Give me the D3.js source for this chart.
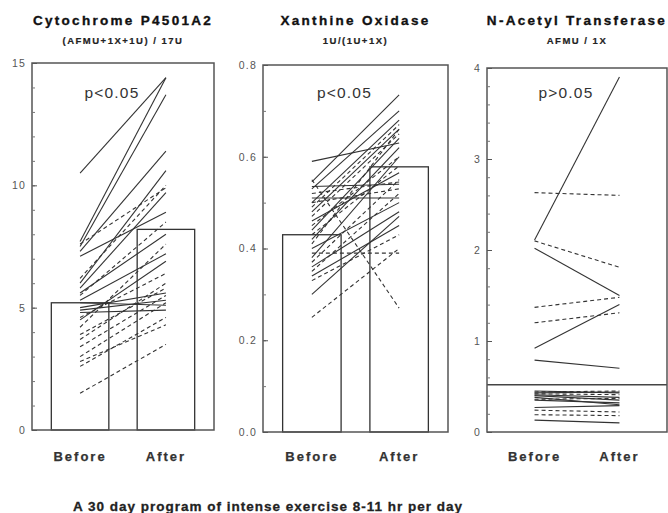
<!DOCTYPE html>
<html>
<head>
<meta charset="utf-8">
<script src="https://cdn.jsdelivr.net/npm/d3@7"></script>
<style>
  body { margin: 0; background: #fff; }
  svg { display: block; font-family: "Liberation Sans", Arial, sans-serif; }
</style>
</head>
<body>
<div id="chart"></div>
<script>
const w = 668;
const h = 513;

const categories = ['Before', 'After'];
const titles = ['Cytochrome P4501A2', 'Xanthine Oxidase', 'N-Acetyl Transferase'];
const subtitles = ['(AFMU+1X+1U) / 17U', '1U/(1U+1X)', 'AFMU / 1X'];
const pLabels = ['p<0.05', 'p<0.05', 'p>0.05'];
const footer = 'A 30 day program of intense exercise 8-11 hr per day';

// Cytochrome P4501A2: [before, after] per subject
const cypMeans = [5.2, 8.2];
const cypTicks = [0, 5, 10, 15];
const cypSolid = [
  [10.5, 14.4], [7.7, 14.4], [7.5, 13.7], [7.3, 11.4], [7.1, 8.9],
  [6.0, 10.6], [5.8, 9.7], [5.6, 8.0], [5.3, 7.2], [5.2, 5.1],
  [5.0, 5.6], [4.9, 5.3], [4.8, 4.9], [4.5, 6.9]
];
const cypDashed = [
  [7.6, 9.9], [6.2, 10.0], [5.5, 8.5], [4.6, 6.4], [4.2, 7.6],
  [3.9, 5.8], [3.7, 6.0], [3.4, 5.5], [3.0, 5.2], [2.8, 4.3],
  [2.6, 4.6], [1.5, 3.5]
];

// Xanthine Oxidase
const xoMeans = [0.43, 0.578];
const xoTicks = [0, 0.2, 0.4, 0.6, 0.8];
const xoSolid = [
  [0.59, 0.63], [0.545, 0.735], [0.53, 0.70], [0.535, 0.54], [0.51, 0.51],
  [0.50, 0.68], [0.48, 0.66], [0.46, 0.565], [0.44, 0.64], [0.42, 0.62],
  [0.40, 0.50], [0.38, 0.60], [0.36, 0.48], [0.30, 0.47], [0.34, 0.45]
];
const xoDashed = [
  [0.52, 0.545], [0.50, 0.53], [0.49, 0.67], [0.47, 0.65], [0.45, 0.60],
  [0.43, 0.58], [0.41, 0.66], [0.39, 0.39], [0.37, 0.55], [0.35, 0.52],
  [0.33, 0.43], [0.55, 0.27], [0.25, 0.40]
];

// N-Acetyl Transferase
const natMeans = [0.52, 0.52];
const natTicks = [0, 1, 2, 3, 4];
const natSolid = [
  [2.11, 3.9], [2.02, 1.5], [0.92, 1.4], [0.79, 0.70],
  [0.45, 0.43], [0.43, 0.44], [0.41, 0.38], [0.40, 0.35],
  [0.38, 0.30], [0.35, 0.32], [0.27, 0.29], [0.13, 0.10]
];
const natDashed = [
  [2.63, 2.6], [2.1, 1.81], [1.37, 1.48], [1.2, 1.31],
  [0.44, 0.45], [0.42, 0.41], [0.36, 0.37], [0.24, 0.22], [0.19, 0.18]
];

const panels = [
  { left: 32, right: 214, top: 63, bottom: 430, max: 15, minor: 1, ticks: cypTicks, fmt: d3.format('d'),
    means: cypMeans, solid: cypSolid, dashed: cypDashed, bars: true },
  { left: 263, right: 448, top: 65, bottom: 432, max: 0.8, minor: 0.1, ticks: xoTicks, fmt: d3.format('.1f'),
    means: xoMeans, solid: xoSolid, dashed: xoDashed, bars: true },
  { left: 487, right: 667, top: 68, bottom: 432, max: 4, minor: 0.2, ticks: natTicks, fmt: d3.format('d'),
    means: natMeans, solid: natSolid, dashed: natDashed, bars: false }
];

const svg = d3.select('#chart')
  .append('svg')
  .attr('width', w)
  .attr('height', h);

panels.forEach((p, i) => {
  const x = d3.scaleBand()
    .domain(categories)
    .range([p.left, p.right])
    .paddingInner(0.33)
    .paddingOuter(0.225);
  const y = d3.scaleLinear()
    .domain([0, p.max])
    .range([p.bottom, p.top]);
  const cx = c => x(c) + x.bandwidth() / 2;
  const g = svg.append('g');

  const mid = (p.left + p.right) / 2;
  g.append('text')
    .attr('x', mid).attr('y', 25)
    .attr('text-anchor', 'middle')
    .style('font-size', '13.5px').style('font-weight', 'bold')
    .style('letter-spacing', '2.3px')
    .attr('fill', '#111')
    .attr('stroke', '#111').attr('stroke-width', 0.35)
    .text(titles[i]);
  g.append('text')
    .attr('x', mid).attr('y', 44)
    .attr('text-anchor', 'middle')
    .style('font-size', '9.5px').style('font-weight', 'bold')
    .style('letter-spacing', '1.5px')
    .attr('fill', '#222')
    .attr('stroke', '#222').attr('stroke-width', 0.2)
    .text(subtitles[i]);

  // mean bars
  if (p.bars) {
    g.selectAll('rect.bar')
      .data(p.means)
      .enter()
      .append('rect')
      .attr('class', 'bar')
      .attr('x', (d, j) => x(categories[j]))
      .attr('y', d => y(d))
      .attr('width', x.bandwidth())
      .attr('height', d => y(0) - y(d))
      .attr('fill', 'none')
      .attr('stroke', '#333')
      .attr('stroke-width', 1.3);
  } else {
    g.append('line')
      .attr('x1', p.left).attr('x2', p.right)
      .attr('y1', y(p.means[0])).attr('y2', y(p.means[1]))
      .attr('stroke', '#444')
      .attr('stroke-width', 1.4);
  }

  // subject lines
  const drawPairs = (data, dash) => {
    g.selectAll(null)
      .data(data)
      .enter()
      .append('line')
      .attr('x1', cx('Before'))
      .attr('x2', cx('After'))
      .attr('y1', d => y(d[0]))
      .attr('y2', d => y(d[1]))
      .attr('stroke', '#333')
      .attr('stroke-width', 1.1)
      .attr('stroke-dasharray', dash);
  };
  drawPairs(p.solid, null);
  drawPairs(p.dashed, '4,3');

  // frame
  g.append('rect')
    .attr('x', p.left).attr('y', p.top)
    .attr('width', p.right - p.left)
    .attr('height', p.bottom - p.top)
    .attr('fill', 'none')
    .attr('stroke', '#555')
    .attr('stroke-width', 1.5);

  // y axis, ticks inside the frame
  const minorTicks = d3.range(0, p.max + p.minor / 2, p.minor);
  g.append('g')
    .attr('transform', 'translate(' + p.left + ',0)')
    .call(d3.axisRight(y).tickValues(minorTicks).tickSize(3).tickFormat(''))
    .call(a => a.select('.domain').remove())
    .call(a => a.selectAll('line').attr('stroke', '#777'));
  const yAxis = g.append('g')
    .attr('transform', 'translate(' + p.left + ',0)')
    .call(d3.axisLeft(y).tickValues(p.ticks).tickSize(0).tickPadding(6).tickFormat(p.fmt));
  yAxis.select('.domain').remove();
  yAxis.selectAll('text')
    .attr('fill', '#555')
    .style('font-size', '10.5px')
    .style('letter-spacing', '1.2px')
    .style('font-family', '"Liberation Sans", Arial, sans-serif');
  g.append('g')
    .attr('transform', 'translate(' + p.left + ',0)')
    .call(d3.axisRight(y).tickValues(p.ticks).tickSize(5).tickFormat(''))
    .call(a => a.select('.domain').remove())
    .call(a => a.selectAll('line').attr('stroke', '#555'));

  // x labels
  g.selectAll('text.cat')
    .data(categories)
    .enter()
    .append('text')
    .attr('class', 'cat')
    .attr('x', d => cx(d))
    .attr('y', 461)
    .attr('text-anchor', 'middle')
    .style('font-size', '13px').style('font-weight', 'bold')
    .style('letter-spacing', '2px')
    .attr('fill', '#333')
    .attr('stroke', '#333').attr('stroke-width', 0.25)
    .text(d => d);

  g.append('text')
    .attr('x', mid - 11)
    .attr('y', 98)
    .attr('text-anchor', 'middle')
    .style('font-size', '15.5px')
    .style('letter-spacing', '1.2px')
    .attr('fill', '#333')
    .text(pLabels[i]);
});

svg.append('text')
  .attr('x', 268).attr('y', 511)
  .attr('text-anchor', 'middle')
  .style('font-size', '13.5px').style('font-weight', 'bold')
  .style('letter-spacing', '1px')
  .attr('fill', '#222')
  .attr('stroke', '#222').attr('stroke-width', 0.3)
  .text(footer);
</script>
</body>
</html>
